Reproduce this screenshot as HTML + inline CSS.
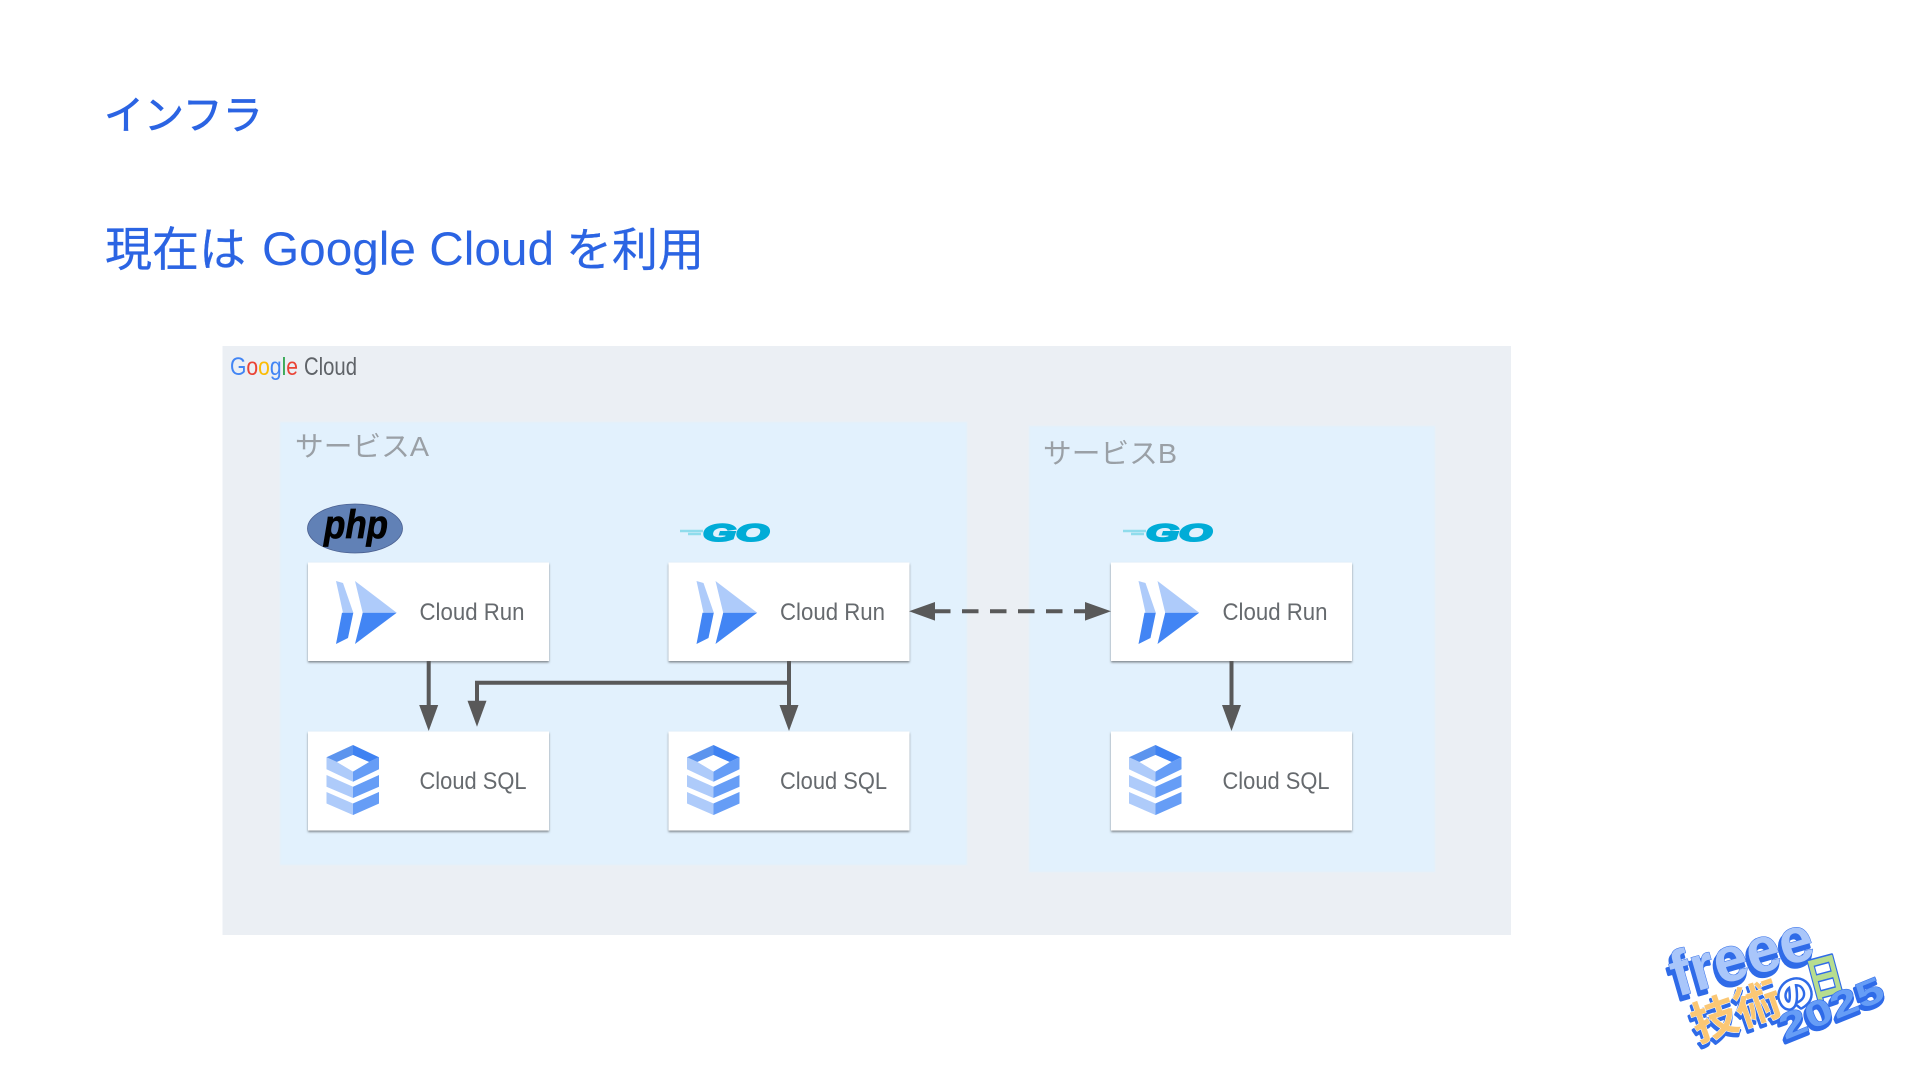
<!DOCTYPE html>
<html><head><meta charset="utf-8"><title>インフラ</title>
<style>
html,body{margin:0;padding:0;background:#fff;width:1920px;height:1080px;overflow:hidden}
svg{display:block}
text{font-family:"Liberation Sans","Noto Sans CJK JP",sans-serif}
</style></head><body>
<svg width="1920" height="1080" viewBox="0 0 1920 1080" xmlns="http://www.w3.org/2000/svg">
<defs>
<filter id="sh" x="-5%" y="-5%" width="110%" height="115%"><feDropShadow dx="0" dy="1.5" stdDeviation="1" flood-color="#5f6368" flood-opacity=".75"/></filter>
<filter id="soft" x="-2%" y="-2%" width="104%" height="104%"><feGaussianBlur stdDeviation=".8"/></filter>
<g id="run">
<polygon points="28,19 35,21 45.3,50.7 35,50.7" fill="#aecbfa"/>
<polygon points="34,50.7 45.3,50.7 40,76 28,82" fill="#4285f4"/>
<polygon points="47,19 88.7,50.7 54.7,50.7" fill="#aecbfa"/>
<polygon points="54.7,50.7 88.7,50.7 47,82" fill="#4285f4"/>
</g>
<g id="sql">
<polygon points="18.5,61 45,72.5 71,61 71,72.5 45,84 18.5,72.5" fill="#aecbfa"/>
<polygon points="45,72.5 71,61 71,72.5 45,84" fill="#669df6"/>
<polygon points="18.5,44 45,55.7 45,67 18.5,55.7" fill="#aecbfa"/>
<polygon points="45,55.7 71,44 71,55.7 45,67" fill="#669df6"/>
<polygon points="18.5,26.3 29,31 45,40.5 45,50.7 18.5,38.3" fill="#aecbfa"/>
<polygon points="71,26.3 61,31 45,40.5 45,50.7 71,38.3" fill="#669df6"/>
<polygon points="45,14 18.5,26.3 29,31 45,24" fill="#5c94ee"/>
<polygon points="45,14 71,26.3 61,31 45,24" fill="#3f82f2"/>
<polygon points="45,24 61,31 45,40.5 29,31" fill="#fff"/>
</g>
<g id="go">
<text x="703" y="541" font-size="24" font-weight="700" font-style="italic" fill="#00acd7" stroke="#00acd7" stroke-width="2" textLength="66" lengthAdjust="spacingAndGlyphs">GO</text>
<path d="M680 531H703M688 534H701" stroke="#8fdcec" stroke-width="2.5" fill="none"/>
</g>
</defs>

<text x="104" y="129" font-size="40" fill="#2b64e3" stroke="#2b64e3" stroke-width=".7">インフラ</text>
<text x="105" y="266" font-size="47" fill="#2b64e3" stroke="#2b64e3" stroke-width=".3">現在は</text>
<text x="262" y="265" font-size="47" fill="#2b64e3" textLength="292" lengthAdjust="spacingAndGlyphs">Google Cloud</text>
<text x="566" y="266" font-size="46" fill="#2b64e3" stroke="#2b64e3" stroke-width=".3">を利用</text>

<rect x="222.5" y="346" width="1288.5" height="589" fill="#ebeff4"/>
<g filter="url(#soft)">
<rect x="280" y="422" width="687" height="443" fill="#e2f1fd"/>
<rect x="1029" y="426" width="406" height="446" fill="#e2f1fd"/>
</g>

<text x="230" y="375" font-size="25" textLength="68" lengthAdjust="spacingAndGlyphs"><tspan fill="#4285f4">G</tspan><tspan fill="#ea4335">o</tspan><tspan fill="#fbbc05">o</tspan><tspan fill="#4285f4">g</tspan><tspan fill="#34a853">l</tspan><tspan fill="#ea4335">e</tspan></text>
<text x="304" y="375" font-size="25" fill="#5f6368" textLength="53" lengthAdjust="spacingAndGlyphs">Cloud</text>

<text x="295" y="456" font-size="28" fill="#9aa0a6" textLength="134" lengthAdjust="spacingAndGlyphs">サービスA</text>
<text x="1043" y="463" font-size="28" fill="#9aa0a6" textLength="134" lengthAdjust="spacingAndGlyphs">サービスB</text>

<ellipse cx="355" cy="528.5" rx="47.5" ry="24.5" fill="#6181b6" stroke="#4a5f8f" stroke-width=".8"/>
<text x="324" y="538" font-size="40" font-weight="700" font-style="italic" fill="#000" stroke="#000" stroke-width=".8" textLength="64" lengthAdjust="spacingAndGlyphs">php</text>

<use href="#go"/>
<use href="#go" x="443"/>

<g filter="url(#sh)" fill="#fff">
<rect x="308" y="562.5" width="241" height="98.5"/>
<rect x="668.5" y="562.5" width="241" height="98.5"/>
<rect x="1111" y="562.5" width="241" height="98.5"/>
<rect x="308" y="731.5" width="241" height="99"/>
<rect x="668.5" y="731.5" width="241" height="99"/>
<rect x="1111" y="731.5" width="241" height="99"/>
</g>

<use href="#run" x="308" y="562"/>
<use href="#run" x="668.5" y="562"/>
<use href="#run" x="1110.5" y="562"/>
<use href="#sql" x="308" y="731"/>
<use href="#sql" x="668.5" y="731"/>
<use href="#sql" x="1110.5" y="731"/>

<g font-size="24" fill="#666a6e">
<text x="419.5" y="620" textLength="105" lengthAdjust="spacingAndGlyphs">Cloud Run</text>
<text x="780" y="620" textLength="105" lengthAdjust="spacingAndGlyphs">Cloud Run</text>
<text x="1222.5" y="620" textLength="105" lengthAdjust="spacingAndGlyphs">Cloud Run</text>
<text x="419.5" y="789" textLength="107" lengthAdjust="spacingAndGlyphs">Cloud SQL</text>
<text x="780" y="789" textLength="107" lengthAdjust="spacingAndGlyphs">Cloud SQL</text>
<text x="1222.5" y="789" textLength="107" lengthAdjust="spacingAndGlyphs">Cloud SQL</text>
</g>

<g stroke="#595959" stroke-width="4" fill="none">
<path d="M428.7 661V708"/>
<path d="M789 661V708"/>
<path d="M1231.5 661V708"/>
<path d="M789 682.7H477V704"/>
<path d="M933 611.3H1087" stroke-dasharray="16.5 11.5" stroke-dashoffset="-1"/>
</g>
<g fill="#595959">
<polygon points="419.2,705 438.2,705 428.7,731"/>
<polygon points="779.5,705 798.5,705 789,731"/>
<polygon points="1222,705 1241,705 1231.5,731"/>
<polygon points="467.5,700.7 486.5,700.7 477,726.7"/>
<polygon points="909,611.3 935,602 935,620.6"/>
<polygon points="1111,611.3 1085,602 1085,620.6"/>
</g>

<!-- freee logo -->
<g font-weight="700" stroke-linejoin="round">
<g transform="translate(1677,997) rotate(-16)">
<text x="-3" y="4" font-size="64" fill="#2f6be8" stroke="#2f6be8" stroke-width="3" textLength="146" lengthAdjust="spacingAndGlyphs">freee</text>
<text x="0" y="0" font-size="64" fill="#a9c6fa" stroke="#2f6be8" stroke-width="1" paint-order="stroke" textLength="146" lengthAdjust="spacingAndGlyphs">freee</text>
</g>
<g transform="translate(1698,1042) rotate(-19)">
<text x="-2" y="3" font-size="46" fill="#2f6be8" stroke="#2f6be8" stroke-width="3">技術</text>
<text x="0" y="0" font-size="46" fill="#fbc774" stroke="#fff" stroke-width="1" paint-order="stroke">技術</text>
</g>
<g transform="translate(1782,1012) rotate(-19)">
<text x="0" y="0" font-size="36" fill="#fff" stroke="#2f6be8" stroke-width="5" paint-order="stroke">の</text>
</g>
<g transform="translate(1813,998) rotate(-15)">
<text x="-1" y="1" font-size="48" fill="#b7dd8f" stroke="#2f6be8" stroke-width="3" paint-order="stroke" textLength="36" lengthAdjust="spacingAndGlyphs">日</text>
</g>
<g transform="translate(1785,1040) rotate(-22)">
<text x="-2" y="3" font-size="36" fill="#2f6be8" stroke="#2f6be8" stroke-width="3" textLength="110" lengthAdjust="spacingAndGlyphs">2025</text>
<text x="0" y="0" font-size="36" fill="#669df6" stroke="#2f6be8" stroke-width="1" paint-order="stroke" textLength="110" lengthAdjust="spacingAndGlyphs">2025</text>
</g>
</g>
</svg>
</body></html>
